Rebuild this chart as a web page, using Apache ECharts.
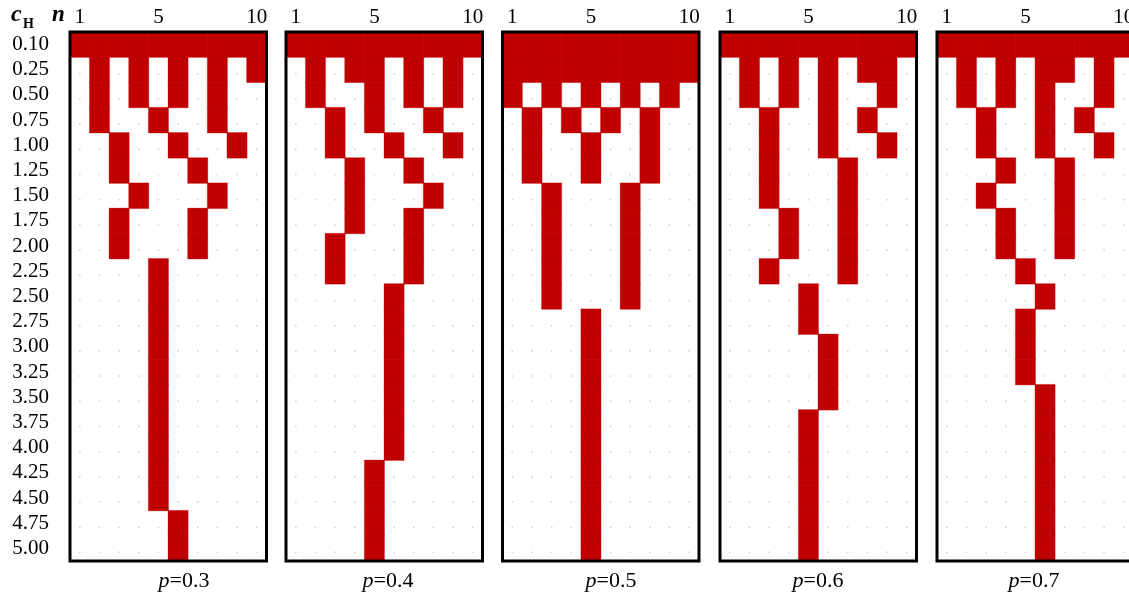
<!DOCTYPE html>
<html>
<head>
<meta charset="utf-8">
<script src="https://cdn.jsdelivr.net/npm/echarts@6/dist/echarts.min.js"></script>
<style>
  html, body { margin: 0; padding: 0; background: #fff; overflow: hidden; width: 1129px; height: 594px; }
  #chart { width: 1170px; height: 594px; }
</style>
</head>
<body>
<div id="chart"></div>
<script>
// ---- data ----
const cH = ['0.10','0.25','0.50','0.75','1.00','1.25','1.50','1.75','2.00','2.25','2.50',
            '2.75','3.00','3.25','3.50','3.75','4.00','4.25','4.50','4.75','5.00'];
const nCats = ['1','2','3','4','5','6','7','8','9','10'];
const nTickLabels = ['1','5','10'];
const pValues = ['0.3','0.4','0.5','0.6','0.7'];

// red cells: for each c_H row (top to bottom), the n values that are filled
const redP03 = [
  [1,2,3,4,5,6,7,8,9,10],
  [2,4,6,8,10],
  [2,4,6,8],
  [2,5,8],
  [3,6,9],
  [3,7],
  [4,8],
  [3,7],
  [3,7],
  [5],
  [5],
  [5],
  [5],
  [5],
  [5],
  [5],
  [5],
  [5],
  [5],
  [6],
  [6]
];
const redP04 = [
  [1,2,3,4,5,6,7,8,9,10],
  [2,4,5,7,9],
  [2,5,7,9],
  [3,5,8],
  [3,6,9],
  [4,7],
  [4,8],
  [4,7],
  [3,7],
  [3,7],
  [6],
  [6],
  [6],
  [6],
  [6],
  [6],
  [6],
  [5],
  [5],
  [5],
  [5]
];
const redP05 = [
  [1,2,3,4,5,6,7,8,9,10],
  [1,2,3,4,5,6,7,8,9,10],
  [1,3,5,7,9],
  [2,4,6,8],
  [2,5,8],
  [2,5,8],
  [3,7],
  [3,7],
  [3,7],
  [3,7],
  [3,7],
  [5],
  [5],
  [5],
  [5],
  [5],
  [5],
  [5],
  [5],
  [5],
  [5]
];
const redP06 = [
  [1,2,3,4,5,6,7,8,9,10],
  [2,4,6,8,9],
  [2,4,6,9],
  [3,6,8],
  [3,6,9],
  [3,7],
  [3,7],
  [4,7],
  [4,7],
  [3,7],
  [5],
  [5],
  [6],
  [6],
  [6],
  [5],
  [5],
  [5],
  [5],
  [5],
  [5]
];
const redP07 = [
  [1,2,3,4,5,6,7,8,9,10],
  [2,4,6,7,9],
  [2,4,6,9],
  [3,6,8],
  [3,6,9],
  [4,7],
  [3,7],
  [4,7],
  [4,7],
  [5],
  [6],
  [5],
  [5],
  [5],
  [6],
  [6],
  [6],
  [6],
  [6],
  [6],
  [6]
];
const panelsRed = [redP03, redP04, redP05, redP06, redP07];

// ---- layout / style ----
const panelLeft = [70, 286, 502.5, 720, 937];
const panelWidth = 196.5;
const panelTop = 32;
const panelHeight = 529;
const titleCenter = [179, 383, 606, 813, 1029];
const RED = '#c00000';
const FONT = "'Liberation Serif', 'Times New Roman', serif";

const chart = echarts.init(document.getElementById('chart'), null, { renderer: 'canvas' });

const grids = [], xAxes = [], yAxes = [], series = [], titles = [], graphics = [];

panelsRed.forEach((rows, i) => {
  grids.push({ left: panelLeft[i], top: panelTop, width: panelWidth, height: panelHeight, show: false });
  xAxes.push({
    type: 'category', gridIndex: i, data: nCats, position: 'top',
    axisLine: { show: false }, axisTick: { show: false }, splitLine: { show: false },
    axisLabel: {
      interval: (idx, val) => nTickLabels.indexOf(val) >= 0,
      margin: 4, fontFamily: FONT, fontSize: 21, color: '#000'
    }
  });
  yAxes.push({
    type: 'category', gridIndex: i, data: cH, inverse: true,
    axisLine: { show: false }, axisTick: { show: false }, splitLine: { show: false },
    axisLabel: {
      show: i === 0, interval: 0, margin: 21, fontFamily: FONT, fontSize: 21, color: '#000',
      padding: [0, 0, 6, 0]
    }
  });
  // faint dots beneath cells
  const dots = [];
  cH.forEach((c, r) => nCats.forEach((n, k) => dots.push([k, r])));
  series.push({
    type: 'scatter', xAxisIndex: i, yAxisIndex: i, data: dots,
    symbol: 'rect', symbolSize: 1.6, symbolOffset: [0, 4],
    itemStyle: { color: '#efb6c0' }, silent: true, z: 1
  });
  const cells = [];
  rows.forEach((cols, r) => cols.forEach(n => cells.push([nCats.indexOf(String(n)), r, 1])));
  series.push({
    type: 'heatmap', xAxisIndex: i, yAxisIndex: i, data: cells,
    itemStyle: { color: RED, borderColor: RED, borderWidth: 0.3 },
    emphasis: { disabled: true }, silent: true, z: 2
  });
  titles.push({
    text: '{i|p}=' + pValues[i],
    left: titleCenter[i], top: 565, textAlign: 'center',
    textStyle: {
      fontFamily: FONT, fontSize: 22, fontWeight: 'normal', color: '#000',
      rich: { i: { fontFamily: FONT, fontSize: 22, fontStyle: 'italic', color: '#000' } }
    }
  });
  graphics.push({
    type: 'rect', z: 100, silent: true,
    shape: { x: panelLeft[i], y: panelTop, width: panelWidth, height: panelHeight },
    style: { fill: 'none', stroke: '#000', lineWidth: 3 }
  });
});

// header: c_H  n
graphics.push({
  type: 'text', x: 11, y: 15, z: 100,
  style: { text: 'c', fontFamily: FONT, fontSize: 24, fontStyle: 'italic', fontWeight: 'bold',
           fill: '#000', verticalAlign: 'middle', align: 'left' }
});
graphics.push({
  type: 'text', x: 23, y: 24, z: 100,
  style: { text: 'H', fontFamily: FONT, fontSize: 14, fontWeight: 'bold',
           fill: '#000', verticalAlign: 'middle', align: 'left' }
});
graphics.push({
  type: 'text', x: 52, y: 15, z: 100,
  style: { text: 'n', fontFamily: FONT, fontSize: 23, fontStyle: 'italic', fontWeight: 'bold',
           fill: '#000', verticalAlign: 'middle', align: 'left' }
});

chart.setOption({
  animation: false,
  backgroundColor: '#fff',
  title: titles,
  grid: grids,
  xAxis: xAxes,
  yAxis: yAxes,
  series: series,
  graphic: graphics
});
</script>
</body>
</html>
